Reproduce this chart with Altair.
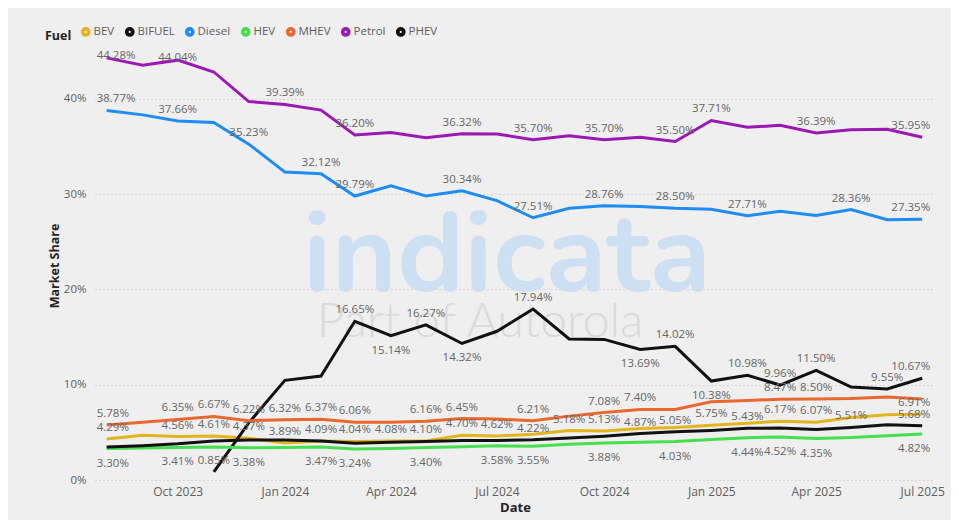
import altair as alt
import pandas as pd

months = ["2023-08", "2023-09", "2023-10", "2023-11", "2023-12",
          "2024-01", "2024-02", "2024-03", "2024-04", "2024-05", "2024-06",
          "2024-07", "2024-08", "2024-09", "2024-10", "2024-11", "2024-12",
          "2025-01", "2025-02", "2025-03", "2025-04", "2025-05", "2025-06",
          "2025-07"]

fuels = ["BEV", "BIFUEL", "Diesel", "HEV", "MHEV", "Petrol", "PHEV"]
colors = ["#e2b41d", "#111111", "#1e8cf0", "#45df4f", "#e8692e", "#9b19b2", "#111111"]

petrol = [44.28, 43.5, 44.04, 42.8, 39.7, 39.39, 38.8, 36.20, 36.45, 35.9, 36.32, 36.3,
          35.70, 36.1, 35.70, 35.95, 35.50, 37.71, 37.0, 37.2, 36.39, 36.75, 36.8, 35.95]
diesel = [38.77, 38.3, 37.66, 37.5, 35.23, 32.3, 32.12, 29.79, 30.85, 29.8, 30.34, 29.3,
          27.51, 28.5, 28.76, 28.7, 28.50, 28.4, 27.71, 28.2, 27.75, 28.36, 27.3, 27.35]
bifuel = [None, None, None, 0.85, 6.0, 10.45, 10.9, 16.65, 15.14, 16.27, 14.32, 15.6,
          17.94, 14.8, 14.75, 13.69, 14.02, 10.38, 10.98, 9.96, 11.50, 9.75, 9.55, 10.67]
mhev = [5.78, 6.05, 6.35, 6.67, 6.22, 6.32, 6.37, 6.06, 6.05, 6.16, 6.45, 6.4,
        6.21, 6.7, 7.08, 7.40, 7.4, 8.2, 8.35, 8.47, 8.50, 8.55, 8.7, 8.5]
bev = [4.29, 4.7, 4.56, 4.61, 4.37, 3.89, 4.09, 4.04, 4.08, 4.10, 4.70, 4.62,
       4.8, 5.18, 5.13, 5.4, 5.5, 5.75, 5.95, 6.17, 6.07, 6.55, 6.85, 6.91]
phev = [3.45, 3.6, 3.8, 4.1, 4.2, 4.2, 4.1, 3.85, 3.95, 4.05, 4.15, 4.15,
        4.22, 4.4, 4.6, 4.87, 5.05, 5.2, 5.43, 5.45, 5.3, 5.51, 5.8, 5.68]
hev = [3.30, 3.35, 3.41, 3.45, 3.38, 3.42, 3.47, 3.24, 3.30, 3.40, 3.48, 3.58,
       3.55, 3.75, 3.88, 3.95, 4.03, 4.25, 4.44, 4.52, 4.35, 4.45, 4.65, 4.82]

series = {"BEV": bev, "BIFUEL": bifuel, "Diesel": diesel, "HEV": hev,
          "MHEV": mhev, "Petrol": petrol, "PHEV": phev}

# month indices that carry a data label in the reference
labelled = {
    "Petrol": [0, 2, 5, 7, 10, 12, 14, 16, 17, 20, 23],
    "Diesel": [0, 2, 4, 6, 7, 10, 12, 14, 16, 18, 21, 23],
    "BIFUEL": [3, 7, 8, 9, 10, 12, 15, 16, 17, 18, 19, 20, 22, 23],
    "MHEV": [0, 2, 3, 4, 5, 6, 7, 9, 10, 12, 14, 15, 19, 20],
    "BEV": [0, 2, 3, 4, 5, 6, 7, 8, 9, 10, 11, 13, 14, 17, 19, 20, 23],
    "PHEV": [12, 15, 16, 18, 21, 23],
    "HEV": [0, 2, 4, 6, 7, 9, 11, 12, 14, 16, 18, 19, 20, 23],
}
below = {("BIFUEL", 8), ("BIFUEL", 10), ("BIFUEL", 15), ("BIFUEL", 17)}
tight = {("Petrol", 0), ("Petrol", 2)}

rows = []
last = len(months) - 1
for f in fuels:
    for i, m in enumerate(months):
        v = series[f][i]
        lab = ""
        pos = "above"
        if v is not None and i in labelled[f]:
            lab = f"{v:.2f}%"
            if f == "HEV" or (f, i) in below:
                pos = "below"
            elif (f, i) in tight:
                pos = "tight"
        edge = "first" if i == 0 else ("last" if i == last else "mid")
        rows.append({"Fuel": f, "Date": m + "-01T00:00:00", "Share": v,
                     "label": lab, "pos": pos, "edge": edge})
df = pd.DataFrame(rows)

FONT = "Segoe UI, Open Sans, sans-serif"

x_enc = alt.X("Date:T", title="Date",
              scale=alt.Scale(domain=[alt.DateTime(year=2023, month=7, date=22),
                                      alt.DateTime(year=2025, month=7, date=12)]),
              axis=alt.Axis(values=[alt.DateTime(year=y, month=mo, date=1)
                                    for (y, mo) in [(2023, 10), (2024, 1), (2024, 4), (2024, 7),
                                                    (2024, 10), (2025, 1), (2025, 4), (2025, 7)]],
                            format="%b %Y", grid=False, domain=False, ticks=False,
                            labelPadding=6, labelFontSize=12, labelColor="#605e5c",
                            labelFont=FONT, titleFont=FONT, titleFontSize=13,
                            titleFontWeight="bold", titleColor="#252423", titlePadding=4))
y_enc = alt.Y("Share:Q", title="Market Share",
              scale=alt.Scale(domain=[0, 45], nice=False),
              axis=alt.Axis(values=[0, 10, 20, 30, 40], labelExpr="datum.value + '%'",
                            grid=True, gridDash=[1, 3], gridColor="#bdbdbd", gridWidth=1,
                            domain=False, ticks=False, labelPadding=9, labelFontSize=11.5,
                            labelColor="#605e5c", labelFont=FONT, titleFont=FONT,
                            titleFontSize=12.5, titleFontWeight="bold", titleColor="#252423",
                            titlePadding=2))
color_enc = alt.Color("Fuel:N", scale=alt.Scale(domain=fuels, range=colors),
                      sort=fuels,
                      legend=alt.Legend(orient="none", legendX=-50, legendY=-25,
                                        direction="horizontal", title="Fuel",
                                        titleOrient="left", titleFontWeight="bold",
                                        titleFontSize=12.5, titleColor="#252423",
                                        titleFont=FONT, labelFont=FONT,
                                        labelFontSize=11.5,
                                        labelColor="#605e5c", symbolType="circle",
                                        symbolSize=14, symbolStrokeWidth=6,
                                        symbolOpacity=1, labelOffset=2, columnPadding=0,
                                        titlePadding=8))

base = alt.Chart(df)

watermark1 = alt.Chart(pd.DataFrame({"t": ["indicata"]})).mark_text(
    font="Nunito, Lato, sans-serif", fontSize=112, fontWeight="bold", color="#cddff2",
    align="center", baseline="alphabetic").encode(
    text="t:N", x=alt.value(412), y=alt.value(240))
watermark2 = alt.Chart(pd.DataFrame({"t": ["Part of Autorola"]})).mark_text(
    font="Lato, sans-serif", fontSize=48, fontWeight=300, color="#dadada",
    align="center", baseline="alphabetic").encode(
    text="t:N", x=alt.value(385), y=alt.value(286))

lines = base.mark_line(strokeWidth=3, interpolate="linear").encode(
    x=x_enc, y=y_enc, color=color_enc, detail="Fuel:N")

POS = {"above": dict(baseline="alphabetic", dy=-8),
       "tight": dict(baseline="alphabetic", dy=1),
       "below": dict(baseline="top", dy=9)}
EDGE = {"first": dict(align="left", dx=-10),
        "mid": dict(align="center", dx=0),
        "last": dict(align="right", dx=8)}

label_layers = []
for p, pk in POS.items():
    for e, ek in EDGE.items():
        label_layers.append(
            base.transform_filter(
                f"datum.label != '' && datum.pos == '{p}' && datum.edge == '{e}'")
            .mark_text(font=FONT, fontSize=11.5, color="#666666", **pk, **ek)
            .encode(x="Date:T", y="Share:Q", text="label:N"))

chart = alt.layer(watermark1, watermark2, lines, *label_layers).properties(
    width=840, height=429,
    padding={"left": 87, "top": 43, "right": 16, "bottom": 40},
    autosize=alt.AutoSizeParams(type="none"),
    background="#efefef",
).configure_view(strokeWidth=0, fill="#efefef")

chart.save("out.html", embed_options={"renderer": "svg", "actions": False})
